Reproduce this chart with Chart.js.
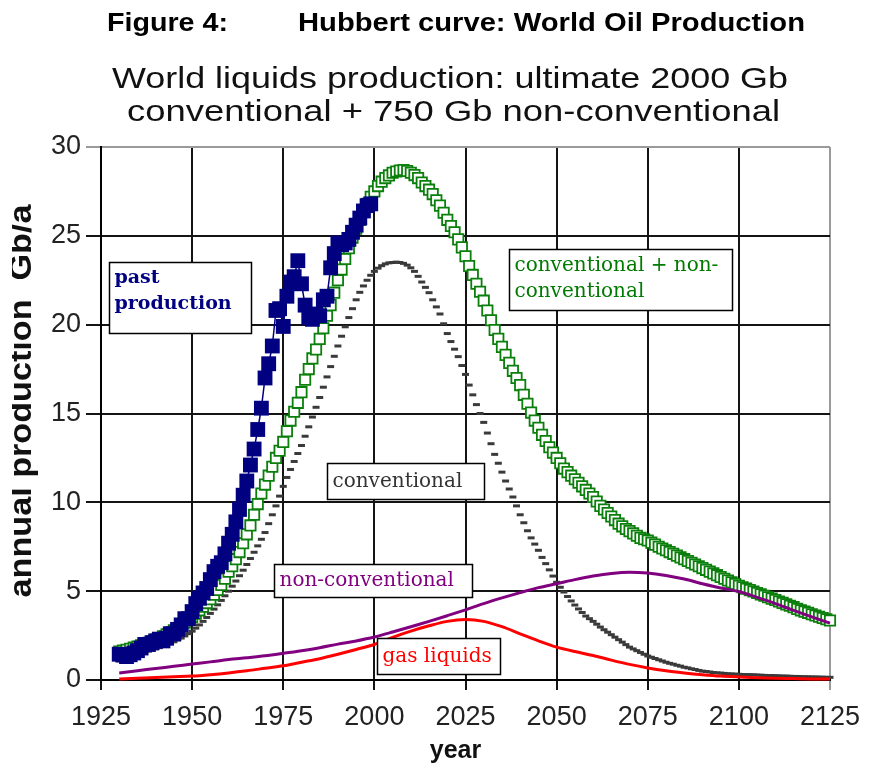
<!DOCTYPE html>
<html>
<head>
<meta charset="utf-8">
<title>Hubbert curve: World Oil Production</title>
<script src="https://cdn.jsdelivr.net/npm/chart.js@4.4.1/dist/chart.umd.min.js"></script>
<style>
  html, body { margin: 0; padding: 0; background: #fff; }
  canvas { display: block; }
</style>
</head>
<body>
<canvas id="chart" width="878" height="773"></canvas>
<script>
// ---- Data (Gb per year) ----
// Historical production, one value per year from 1930 to 1999
const pastStart = 1930;
const pastProduction = [
  1.45, 1.40, 1.32, 1.42, 1.52, 1.65, 1.80, 2.00, 2.00, 2.10,
  2.20, 2.30, 2.20, 2.35, 2.60, 2.60, 2.85, 3.10, 3.45, 3.45,
  3.85, 4.30, 4.60, 4.90, 5.15, 5.65, 6.10, 6.40, 6.60, 7.10,
  7.70, 8.20, 8.90, 9.60, 10.40, 11.20, 12.10, 13.00, 14.10, 15.30,
  17.00, 17.80, 18.80, 20.80, 20.90, 19.90, 21.60, 22.40, 22.70, 23.60,
  22.30, 21.10, 20.40, 20.30, 20.60, 20.50, 21.40, 21.60, 23.20, 24.00,
  24.60, 24.50, 24.60, 24.80, 25.20, 25.60, 26.00, 26.40, 26.70, 26.80
];

// Modelled curves, one value per year from 1930 to 2125
const modelStart = 1930;
const conventional = [
  1.20, 1.25, 1.30, 1.35, 1.40, 1.45, 1.50, 1.56, 1.62, 1.68,
  1.75, 1.82, 1.89, 1.97, 2.06, 2.15, 2.25, 2.36, 2.48, 2.61,
  2.75, 2.92, 3.10, 3.30, 3.52, 3.75, 3.99, 4.23, 4.48, 4.74,
  5.00, 5.28, 5.57, 5.87, 6.18, 6.50, 6.84, 7.19, 7.55, 7.92,
  8.30, 8.80, 9.30, 9.80, 10.35, 10.90, 11.40, 11.85, 12.30, 12.75,
  13.20, 13.72, 14.25, 14.80, 15.35, 15.90, 16.48, 17.06, 17.64, 18.22,
  18.80, 19.35, 19.88, 20.40, 20.90, 21.40, 21.82, 22.18, 22.50, 22.78,
  23.00, 23.18, 23.32, 23.42, 23.48, 23.50, 23.52, 23.50, 23.45, 23.35,
  23.20, 23.00, 22.72, 22.40, 22.10, 21.80, 21.40, 21.00, 20.60, 20.05,
  19.50, 19.05, 18.62, 18.20, 17.70, 17.20, 16.60, 16.05, 15.50, 15.00,
  14.50, 13.90, 13.30, 12.70, 12.20, 11.70, 11.20, 10.75, 10.30, 9.80,
  9.30, 8.85, 8.40, 8.00, 7.65, 7.30, 6.90, 6.55, 6.20, 5.85,
  5.50, 5.22, 4.95, 4.70, 4.45, 4.22, 4.00, 3.80, 3.60, 3.45,
  3.30, 3.14, 2.98, 2.83, 2.69, 2.55, 2.41, 2.27, 2.13, 1.99,
  1.85, 1.75, 1.65, 1.55, 1.45, 1.35, 1.28, 1.21, 1.14, 1.07,
  1.00, 0.94, 0.89, 0.83, 0.78, 0.72, 0.68, 0.63, 0.59, 0.54,
  0.50, 0.48, 0.45, 0.42, 0.40, 0.39, 0.37, 0.35, 0.34, 0.33,
  0.32, 0.31, 0.30, 0.30, 0.29, 0.28, 0.27, 0.26, 0.25, 0.25,
  0.24, 0.23, 0.22, 0.22, 0.21, 0.20, 0.20, 0.19, 0.18, 0.18,
  0.17, 0.17, 0.16, 0.16, 0.15, 0.15
];
const convPlusNonConv = [
  1.60, 1.65, 1.70, 1.76, 1.82, 1.88, 1.95, 2.02, 2.10, 2.18,
  2.27, 2.36, 2.46, 2.57, 2.68, 2.80, 2.93, 3.07, 3.22, 3.38,
  3.55, 3.73, 3.92, 4.12, 4.33, 4.55, 4.80, 5.07, 5.35, 5.70,
  6.10, 6.40, 6.80, 7.20, 7.70, 8.20, 8.70, 9.30, 9.90, 10.50,
  11.00, 11.50, 12.00, 12.50, 12.90, 13.40, 14.00, 14.60, 15.10, 15.60,
  16.20, 16.90, 17.50, 18.10, 18.60, 19.20, 19.80, 20.50, 21.10, 21.80,
  22.50, 23.10, 23.70, 24.30, 24.90, 25.40, 25.90, 26.40, 26.80, 27.20,
  27.50, 27.80, 28.05, 28.25, 28.40, 28.55, 28.62, 28.68, 28.70, 28.65,
  28.55, 28.42, 28.25, 28.00, 27.80, 27.60, 27.35, 27.00, 26.70, 26.30,
  25.90, 25.55, 25.20, 24.80, 24.35, 23.85, 23.30, 22.80, 22.30, 21.85,
  21.35, 20.80, 20.25, 19.70, 19.20, 18.75, 18.30, 17.85, 17.40, 17.00,
  16.60, 16.05, 15.55, 15.05, 14.60, 14.20, 13.80, 13.45, 13.10, 12.80,
  12.50, 12.20, 11.90, 11.70, 11.50, 11.30, 11.10, 10.90, 10.70, 10.50,
  10.30, 10.05, 9.80, 9.60, 9.40, 9.20, 9.00, 8.80, 8.65, 8.50,
  8.38, 8.25, 8.12, 8.00, 7.92, 7.85, 7.73, 7.62, 7.50, 7.40,
  7.30, 7.20, 7.10, 7.00, 6.90, 6.80, 6.70, 6.60, 6.50, 6.40,
  6.30, 6.20, 6.10, 6.00, 5.90, 5.80, 5.70, 5.60, 5.50, 5.40,
  5.30, 5.22, 5.14, 5.06, 4.98, 4.90, 4.82, 4.74, 4.66, 4.58,
  4.50, 4.42, 4.34, 4.26, 4.18, 4.10, 4.00, 3.92, 3.85, 3.78,
  3.70, 3.63, 3.56, 3.49, 3.42, 3.35
];

// Five-yearly curves, 1930 to 2125
const fiveYearStart = 1930;
const nonConventional = [
  0.40, 0.52, 0.65, 0.77, 0.90, 1.02, 1.15, 1.25, 1.36, 1.50,
  1.65, 1.82, 2.02, 2.20, 2.42, 2.70, 3.00, 3.30, 3.62, 3.95,
  4.30, 4.62, 4.92, 5.20, 5.42, 5.65, 5.85, 6.00, 6.07, 6.02,
  5.88, 5.68, 5.42, 5.18, 4.98, 4.65, 4.30, 3.92, 3.55, 3.20
];
const gasLiquids = [
  0.05, 0.10, 0.14, 0.18, 0.22, 0.30, 0.40, 0.52, 0.66, 0.80,
  1.00, 1.20, 1.45, 1.72, 2.00, 2.40, 2.75, 3.05, 3.30, 3.40,
  3.30, 3.00, 2.60, 2.20, 1.85, 1.60, 1.38, 1.12, 0.88, 0.68,
  0.52, 0.40, 0.30, 0.22, 0.17, 0.13, 0.10, 0.08, 0.06, 0.05
];

// Axis ticks
const yearTicks = [1925, 1950, 1975, 2000, 2025, 2050, 2075, 2100, 2125];
const valueTicks = [0, 5, 10, 15, 20, 25, 30];

// Text
const figureLabel = 'Figure 4:';
const figureTitle = 'Hubbert curve: World Oil Production';
const chartTitle = ['World liquids production: ultimate 2000 Gb',
                    'conventional + 750 Gb non-conventional'];
const xTitle = 'year';
const yTitle = 'annual production  Gb/a';

// Series labels placed inside the plot (anchor = top-left corner in data units)
const seriesNotes = [
  { lines: ['past', 'production'], year: 1927.2, value: 23.5, w: 142, h: 71,
    color: '#000080', bold: true, lineY: [16, 42] },
  { lines: ['conventional + non-', 'conventional'], year: 2036.9, value: 24.25, w: 223, h: 61,
    color: '#007a00', bold: false, lineY: [16, 42] },
  { lines: ['conventional'], year: 1987.0, value: 12.2, w: 157, h: 36,
    color: '#333333', bold: false, lineY: [18] },
  { lines: ['non-conventional'], year: 1972.5, value: 6.55, w: 198, h: 33,
    color: '#800080', bold: false, lineY: [16] },
  { lines: ['gas liquids'], year: 2000.7, value: 2.36, w: 123, h: 36,
    color: '#ff0000', bold: false, lineY: [18] }
];

// ---- Build point lists ----
function toPoints(start, step, values) {
  return values.map((v, i) => ({ x: start + i * step, y: v }));
}

// Draw text stretched/condensed to an exact width
function drawFitted(ctx, text, x, y, width, align) {
  const w = ctx.measureText(text).width;
  ctx.save();
  ctx.translate(x, y);
  ctx.scale(width / w, 1);
  ctx.textAlign = 'left';
  ctx.fillText(text, align === 'center' ? -w / 2 : 0, 0);
  ctx.restore();
}

const SANS = '"Liberation Sans", Arial, sans-serif';
const SERIF = '"DejaVu Serif", serif';

const decorations = {
  id: 'decorations',
  afterDatasetsDraw(chart) {
    const ctx = chart.ctx;
    const xs = chart.scales.x, ys = chart.scales.y;
    ctx.save();
    ctx.textBaseline = 'middle';
    seriesNotes.forEach(n => {
      const left = Math.round(xs.getPixelForValue(n.year)) + 0.5;
      const top = Math.round(ys.getPixelForValue(n.value)) + 0.5;
      ctx.fillStyle = '#fff';
      ctx.fillRect(left, top, n.w, n.h);
      ctx.strokeStyle = '#000';
      ctx.lineWidth = 1.5;
      ctx.strokeRect(left, top, n.w, n.h);
      ctx.fillStyle = n.color;
      ctx.font = (n.bold ? 'bold 19px ' : '20px ') + SERIF;
      ctx.textAlign = 'left';
      n.lines.forEach((t, i) => ctx.fillText(t, left + 5, top + n.lineY[i]));
    });
    ctx.restore();
  },
  afterDraw(chart) {
    const ctx = chart.ctx;
    const area = chart.chartArea;
    ctx.save();
    ctx.fillStyle = '#000';
    ctx.textBaseline = 'alphabetic';

    ctx.font = 'bold 25px ' + SANS;
    drawFitted(ctx, figureLabel, 107, 31, 121, 'left');
    drawFitted(ctx, figureTitle, 298, 31, 507, 'left');

    ctx.font = '30px ' + SANS;
    ctx.fillStyle = '#111';
    drawFitted(ctx, chartTitle[0], 450, 88, 676, 'center');
    drawFitted(ctx, chartTitle[1], 453.5, 121, 653, 'center');

    // x-axis title
    ctx.font = 'bold 25px ' + SANS;
    ctx.fillStyle = '#111';
    ctx.textAlign = 'center';
    ctx.fillText(xTitle, (area.left + area.right) / 2 - 10, 758);

    // y-axis title, rotated, trimmed at the left canvas margin
    ctx.save();
    ctx.beginPath();
    ctx.rect(12, 0, 60, chart.height);
    ctx.clip();
    ctx.translate(31, 401);
    ctx.rotate(-Math.PI / 2);
    ctx.font = 'bold 31px ' + SANS;
    drawFitted(ctx, yTitle, 0, 0, 393, 'center');
    ctx.restore();

    ctx.restore();
  }
};

const gridColor = (edgeValue) => (c) =>
  (c.tick && c.tick.value === edgeValue) ? '#9a9a9a' : '#141414';

new Chart(document.getElementById('chart'), {
  type: 'line',
  data: {
    datasets: [
      {
        label: 'past production',
        data: toPoints(pastStart, 1, pastProduction),
        borderColor: '#000080',
        backgroundColor: '#000080',
        borderWidth: 1.5,
        pointStyle: 'rect',
        pointRadius: 10.5,
        pointBorderWidth: 0,
        pointBackgroundColor: '#000080',
        showLine: true,
        tension: 0
      },
      {
        label: 'non-conventional',
        data: toPoints(fiveYearStart, 5, nonConventional),
        borderColor: '#800080',
        borderWidth: 3,
        pointRadius: 0,
        cubicInterpolationMode: 'monotone'
      },
      {
        label: 'gas liquids',
        data: toPoints(fiveYearStart, 5, gasLiquids),
        borderColor: '#ff0000',
        borderWidth: 3,
        pointRadius: 0,
        cubicInterpolationMode: 'monotone'
      },
      {
        label: 'conventional + non-conventional',
        data: toPoints(modelStart, 1, convPlusNonConv),
        showLine: false,
        pointStyle: 'rect',
        pointRadius: 7.3,
        pointBorderWidth: 1.8,
        pointBorderColor: '#0b7f0b',
        pointBackgroundColor: '#ffffff'
      },
      {
        label: 'conventional',
        data: toPoints(modelStart, 1, conventional),
        showLine: false,
        pointStyle: 'line',
        pointRadius: 3.5,
        pointBorderWidth: 3,
        pointBorderColor: '#3a3a3a'
      }
    ]
  },
  options: {
    responsive: false,
    devicePixelRatio: 1,
    animation: false,
    clip: false,
    layout: { padding: { top: 147, right: 48, left: 0, bottom: 0 } },
    plugins: {
      legend: { display: false },
      tooltip: { enabled: false },
      title: { display: false }
    },
    scales: {
      x: {
        type: 'linear',
        min: yearTicks[0],
        max: yearTicks[yearTicks.length - 1],
        afterFit: (s) => { s.height = 93; },
        afterBuildTicks: (s) => { s.ticks = yearTicks.map(v => ({ value: v })); },
        ticks: {
          callback: (v) => String(v),
          font: { family: SANS, size: 27 },
          color: '#222',
          padding: 11,
          maxRotation: 0,
          autoSkip: false
        },
        grid: { color: gridColor(2125), lineWidth: 2, tickLength: 10 },
        border: { color: '#000', width: 2 }
      },
      y: {
        min: valueTicks[0],
        max: valueTicks[valueTicks.length - 1],
        afterFit: (s) => { s.width = 101; },
        afterBuildTicks: (s) => { s.ticks = valueTicks.map(v => ({ value: v })); },
        ticks: {
          callback: (v) => String(v),
          font: { family: SANS, size: 27 },
          color: '#222',
          padding: 5
        },
        grid: { color: gridColor(30), lineWidth: 2, tickLength: 15 },
        border: { color: '#000', width: 2 }
      }
    }
  },
  plugins: [decorations]
});
</script>
</body>
</html>
